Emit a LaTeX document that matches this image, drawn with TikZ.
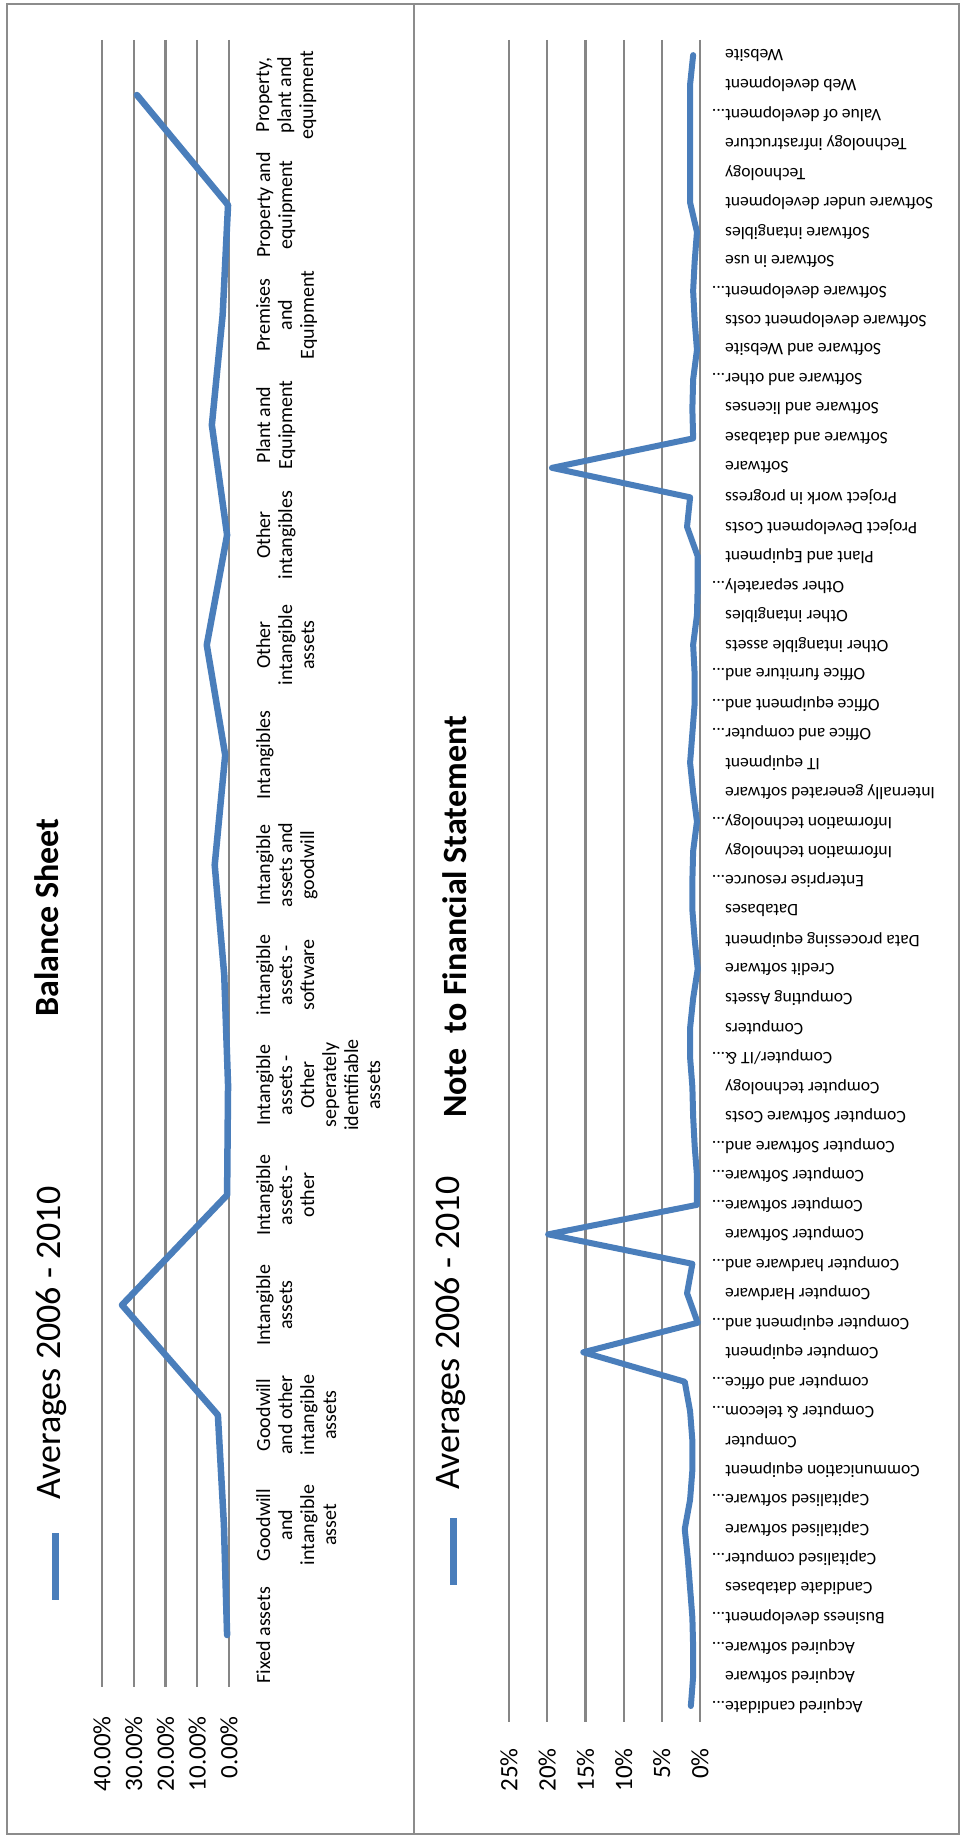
\documentclass[tikz,border=0pt]{standalone}
\usepackage{fontspec}
\setmainfont{Carlito}
\usetikzlibrary{positioning}
\definecolor{SeriesBlue}{RGB}{74,126,187}
\definecolor{GridGrey}{RGB}{134,134,134}
\definecolor{FrameGrey}{RGB}{140,140,140}

\begin{document}
\begin{tikzpicture}[x=1pt,y=-1pt,
    grid/.style={GridGrey,line width=2.2pt},
    frame/.style={FrameGrey,line width=2.5pt},
    series/.style={SeriesBlue,line width=6.5pt,line join=round,line cap=round},
    legendbar/.style={SeriesBlue,line width=7pt},
    ticklbl/.style={rotate=90,anchor=east,inner sep=0pt,font=\fontsize{25}{25}\selectfont},
    catlbl/.style={rotate=90,anchor=north,inner sep=0pt,align=center,font=\fontsize{20}{22}\selectfont},
    notelbl/.style={rotate=180,anchor=east,inner sep=0pt,font=\fontsize{17.5}{18}\selectfont},
    avg/.style={rotate=90,anchor=base west,inner sep=0pt,font=\fontsize{36}{36}\selectfont},
    ttl/.style={rotate=90,anchor=base west,inner sep=0pt,font=\fontsize{34}{34}\selectfont\bfseries}
  ]
  \useasboundingbox (0,0) rectangle (961,1836);

  % outer frame and divider
  \draw[frame] (7,4) rectangle (959,1834);
  \draw[frame] (414,4) -- (414,1834);

  % ---- balance sheet ----
  \foreach \p [count=\k from 0] in {0.00,10.00,20.00,30.00,40.00}{
    \draw[grid] ({229-31.75*\k},40) -- ({229-31.75*\k},1687);
    \node[ticklbl] (bt\k) at ({229-31.75*\k},1716) {\p\%};
  }
  \foreach \t [count=\i from 0] in {Fixed assets,
      Goodwill\\and\\intangible\\asset,
      Goodwill\\and other\\intangible\\assets,
      Intangible\\assets,
      Intangible\\assets -\\other,
      Intangible\\assets -\\Other\\seperately\\identifiable\\assets,
      intangible\\assets -\\software,
      Intangible\\assets and\\goodwill,
      Intangibles,
      Other\\intangible\\assets,
      Other\\intangibles,
      Plant and\\Equipment,
      Premises\\and\\Equipment,
      Property and\\equipment,
      {Property,\\plant and\\equipment}}{
    \node[catlbl] (bc\i) at (256,{1635-110*\i}) {\t};
  }
  \foreach \v [count=\i from 0] in {0.6,1.6,3.5,33.7,0.6,0.3,1.5,4.5,1.2,7.0,0.6,5.4,2.0,0.3,29.0}{
    \coordinate (bp\i) at ({229-3.175*\v},{1635-110*\i});
  }
  \draw[series] (bp0) \foreach \i in {1,...,14}{ -- (bp\i)};

  \draw[legendbar] (55,1533) -- (55,1600);
  \node[avg] (bavg) at (60,1500) {Averages 2006 - 2010};
  \node[ttl] (btitle) at (58,1017) {Balance Sheet};

  % ---- note to financial statement ----
  \foreach \p [count=\k from 0] in {0,5,10,15,20,25}{
    \draw[grid] ({700-38.2*\k},40) -- ({700-38.2*\k},1722);
    \node[ticklbl] (nt\k) at ({700-38.2*\k},1748) {\p\%};
  }
  \foreach \t [count=\i from 1] in {Acquired candidate\rlap{...},
      Acquired software,
      Acquired software\rlap{...},
      Business development\rlap{...},
      Candidate databases,
      Capitalised computer\rlap{...},
      Capitalised software,
      Capitalised software\rlap{...},
      Communication equipment,
      Computer,
      Computer \& telecom\rlap{...},
      computer and office\rlap{...},
      Computer equipment,
      Computer equipment and\rlap{...},
      Computer Hardware,
      Computer hardware and\rlap{...},
      Computer Software,
      Computer software\rlap{...},
      Computer Software\rlap{...},
      Computer Software and\rlap{...},
      Computer Software Costs,
      Computer technology,
      Computer/IT \&\rlap{...},
      Computers,
      Computing Assets,
      Credit software,
      Data processing equipment,
      Databases,
      Enterprise resource\rlap{...},
      Information technology,
      Information technology\rlap{...},
      Internally generated software,
      IT equipment,
      Office and computer\rlap{...},
      Office equipment and\rlap{...},
      Office furniture and\rlap{...},
      Other intangible assets,
      Other intangibles,
      Other separately\rlap{...},
      Plant and Equipment,
      Project Development Costs,
      Project work in progress,
      Software,
      Software and database,
      Software and licenses,
      Software and other\rlap{...},
      Software and Website,
      Software development costs,
      Software development\rlap{...},
      Software in use,
      Software intangibles,
      Software under development,
      Technology,
      Technology infrastructure,
      Value of development\rlap{...},
      Web development,
      Website}{
    \node[notelbl] (nc\i) at (725,{1706-(\i-1)*29.48}) {\t};
  }
  \foreach \v [count=\i from 1] in {1.2,0.9,0.9,1.0,1.3,1.6,2.0,1.3,1.0,1.0,
      1.3,2.0,15.3,0.3,1.7,1.0,19.9,0.4,0.4,0.7,
      0.9,1.0,1.3,1.3,0.9,0.3,0.7,1.0,1.0,0.9,
      0.4,0.9,1.3,1.0,0.7,0.7,0.9,0.4,0.3,0.3,
      1.7,1.3,19.4,0.9,1.0,0.9,0.4,0.7,0.9,0.7,
      0.4,1.3,1.3,1.3,1.3,1.3,0.9}{
    \coordinate (np\i) at ({700-7.63*\v},{1706-(\i-1)*29.48});
  }
  \draw[series,line width=6pt] (np1) \foreach \i in {2,...,57}{ -- (np\i)};

  \draw[legendbar] (453,1518) -- (453,1585);
  \node[avg] (navg) at (459,1490) {Averages 2006 - 2010};
  \node[ttl] (ntitle) at (466,1118) {Note\ \ to Financial Statement};
\end{tikzpicture}
\end{document}
